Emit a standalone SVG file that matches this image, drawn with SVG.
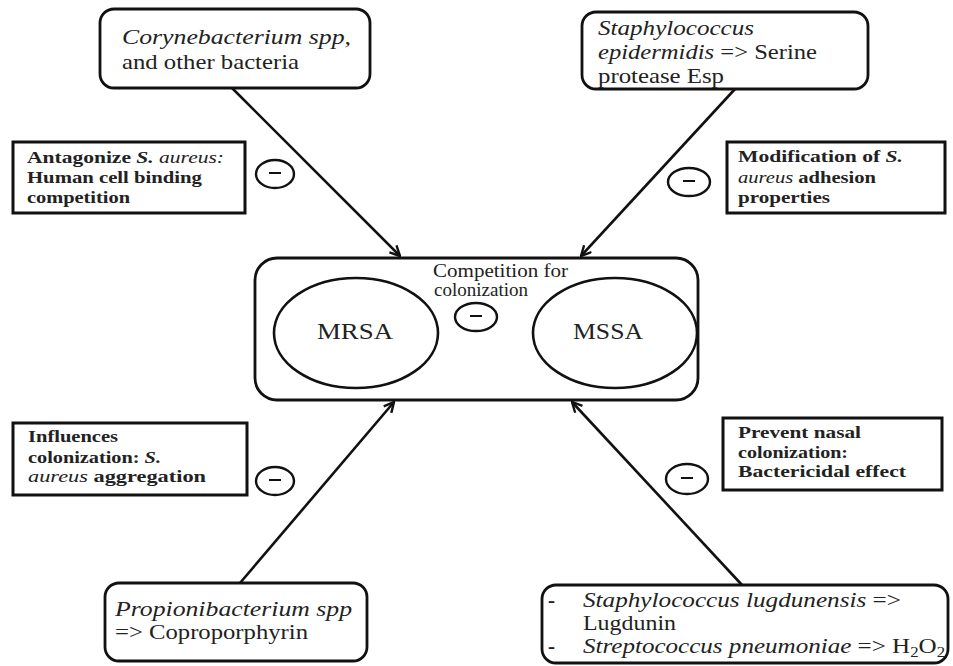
<svg xmlns="http://www.w3.org/2000/svg" width="953" height="666" viewBox="0 0 953 666" font-family="'Liberation Serif', 'Times New Roman', serif">
<defs>
<style>
.box{fill:#fff;stroke:#111;stroke-width:2.8}
.sq{fill:#fff;stroke:#111;stroke-width:3}
.circ{fill:#fff;stroke:#111;stroke-width:2.6}
.minus{fill:#fff;stroke:#111;stroke-width:2.4}
.bar{stroke:#111;stroke-width:2}
.conn{stroke:#111;stroke-width:2.6;fill:none;marker-end:url(#arr)}
text{font-family:'Liberation Serif','Times New Roman',serif;fill:#222}
.t{font-size:21px}
.b{font-size:17px;font-weight:bold}
.c{font-size:18px}
.m{font-size:23px}
.i{font-style:italic}
.n{font-weight:normal}
</style>
<marker id="arr" viewBox="0 0 12 12" refX="11" refY="6" markerWidth="12" markerHeight="12" markerUnits="userSpaceOnUse" orient="auto">
<path d="M1,1 L11,6 L1,11" fill="none" stroke="#111" stroke-width="2.4"/>
</marker>
</defs>
<rect width="953" height="666" fill="#fff"/>

<g id="connectors">
<line class="conn" x1="232" y1="88" x2="400" y2="256"/>
<line class="conn" x1="735" y1="89" x2="581" y2="256"/>
<line class="conn" x1="240" y1="583" x2="394" y2="402"/>
<line class="conn" x1="742" y1="585" x2="572" y2="402"/>
<line class="conn" x1="531" y1="332" x2="440" y2="332"/>
</g>

<g id="node-corynebacterium">
<rect class="box" x="100" y="9" width="270" height="79" rx="14"/>
<text class="t i" x="122" y="44" textLength="229" lengthAdjust="spacingAndGlyphs">Corynebacterium spp,</text>
<text class="t" x="122" y="69" textLength="177" lengthAdjust="spacingAndGlyphs">and other bacteria</text>
</g>

<g id="node-epidermidis">
<rect class="box" x="582" y="12" width="286" height="77" rx="14"/>
<text class="t i" x="598" y="35" textLength="156" lengthAdjust="spacingAndGlyphs">Staphylococcus</text>
<text class="t" x="598" y="59" textLength="219" lengthAdjust="spacingAndGlyphs"><tspan class="i">epidermidis</tspan> =&gt; Serine</text>
<text class="t" x="598" y="83" textLength="126" lengthAdjust="spacingAndGlyphs">protease Esp</text>
</g>

<g id="label-antagonize">
<rect class="sq" x="13" y="142" width="232" height="71"/>
<text class="b" x="27" y="163" textLength="197" lengthAdjust="spacingAndGlyphs">Antagonize  <tspan class="i">S.</tspan> <tspan class="i n">aureus:</tspan></text>
<text class="b" x="27" y="183" textLength="175" lengthAdjust="spacingAndGlyphs">Human  cell binding</text>
<text class="b" x="27" y="203" textLength="103" lengthAdjust="spacingAndGlyphs">competition</text>
</g>

<g id="label-modification">
<rect class="sq" x="727" y="142" width="218" height="71"/>
<text class="b" x="738" y="162" textLength="165" lengthAdjust="spacingAndGlyphs">Modification  of <tspan class="i">S.</tspan></text>
<text class="b" x="738" y="183" textLength="138" lengthAdjust="spacingAndGlyphs"><tspan class="i n">aureus</tspan> adhesion</text>
<text class="b" x="738" y="203" textLength="92" lengthAdjust="spacingAndGlyphs">properties</text>
</g>

<g id="node-center">
<rect class="box" x="255" y="258" width="443" height="142" rx="22"/>
<text class="c" x="433" y="277" textLength="135" lengthAdjust="spacingAndGlyphs">Competition  for</text>
<text class="c" x="434" y="296" textLength="94" lengthAdjust="spacingAndGlyphs">colonization</text>
</g>

<g id="node-mrsa">
<ellipse class="circ" cx="356" cy="333" rx="82" ry="55"/>
<text class="m" x="317" y="339" textLength="76" lengthAdjust="spacingAndGlyphs">MRSA</text>
</g>

<g id="node-mssa">
<ellipse class="circ" cx="615" cy="333" rx="82" ry="55"/>
<text class="m" x="573" y="339" textLength="70" lengthAdjust="spacingAndGlyphs">MSSA</text>
</g>

<g id="minus-center">
<ellipse class="minus" cx="476" cy="317" rx="21" ry="14"/>
<line class="bar" x1="470" y1="316" x2="482" y2="316"/>
</g>
<g id="minus-tl">
<ellipse class="minus" cx="275" cy="174" rx="19" ry="14"/>
<line class="bar" x1="269" y1="173" x2="281" y2="173"/>
</g>
<g id="minus-tr">
<ellipse class="minus" cx="689" cy="182" rx="21" ry="14"/>
<line class="bar" x1="683" y1="181" x2="695" y2="181"/>
</g>
<g id="minus-bl">
<ellipse class="minus" cx="275" cy="481" rx="19" ry="14"/>
<line class="bar" x1="269" y1="480" x2="281" y2="480"/>
</g>
<g id="minus-br">
<ellipse class="minus" cx="687" cy="479" rx="21" ry="15"/>
<line class="bar" x1="681" y1="478" x2="693" y2="478"/>
</g>

<g id="label-influences">
<rect class="sq" x="13" y="423" width="234" height="72"/>
<text class="b" x="28" y="442" textLength="90" lengthAdjust="spacingAndGlyphs">Influences</text>
<text class="b" x="28" y="463" textLength="133" lengthAdjust="spacingAndGlyphs">colonization:  <tspan class="i">S.</tspan></text>
<text class="b" x="28" y="482" textLength="178" lengthAdjust="spacingAndGlyphs"><tspan class="i n">aureus</tspan> aggregation</text>
</g>

<g id="label-prevent">
<rect class="sq" x="723" y="418" width="219" height="72"/>
<text class="b" x="738" y="438" textLength="123" lengthAdjust="spacingAndGlyphs">Prevent nasal</text>
<text class="b" x="738" y="458" textLength="110" lengthAdjust="spacingAndGlyphs">colonization:</text>
<text class="b" x="738" y="477" textLength="168" lengthAdjust="spacingAndGlyphs">Bactericidal  effect</text>
</g>

<g id="node-propionibacterium">
<rect class="box" x="105" y="583" width="262" height="78" rx="14"/>
<text class="t i" x="115" y="616" textLength="237" lengthAdjust="spacingAndGlyphs">Propionibacterium spp</text>
<text class="t" x="115" y="639" textLength="193" lengthAdjust="spacingAndGlyphs">=&gt; Coproporphyrin</text>
</g>

<g id="node-lugdunensis">
<rect class="box" x="542" y="585" width="406" height="78" rx="14"/>
<text class="t" x="548" y="607" font-weight="bold">-</text>
<text class="t" x="548" y="653" font-weight="bold">-</text>
<text class="t" x="583" y="607" textLength="318" lengthAdjust="spacingAndGlyphs"><tspan class="i">Staphylococcus lugdunensis</tspan> =&gt;</text>
<text class="t" x="583" y="630" textLength="93" lengthAdjust="spacingAndGlyphs">Lugdunin</text>
<text class="t" x="583" y="653" textLength="362" lengthAdjust="spacingAndGlyphs"><tspan class="i">Streptococcus pneumoniae</tspan> =&gt; H<tspan font-size="14" dy="4">2</tspan><tspan dy="-4">O</tspan><tspan font-size="14" dy="4">2</tspan></text>
</g>
</svg>
